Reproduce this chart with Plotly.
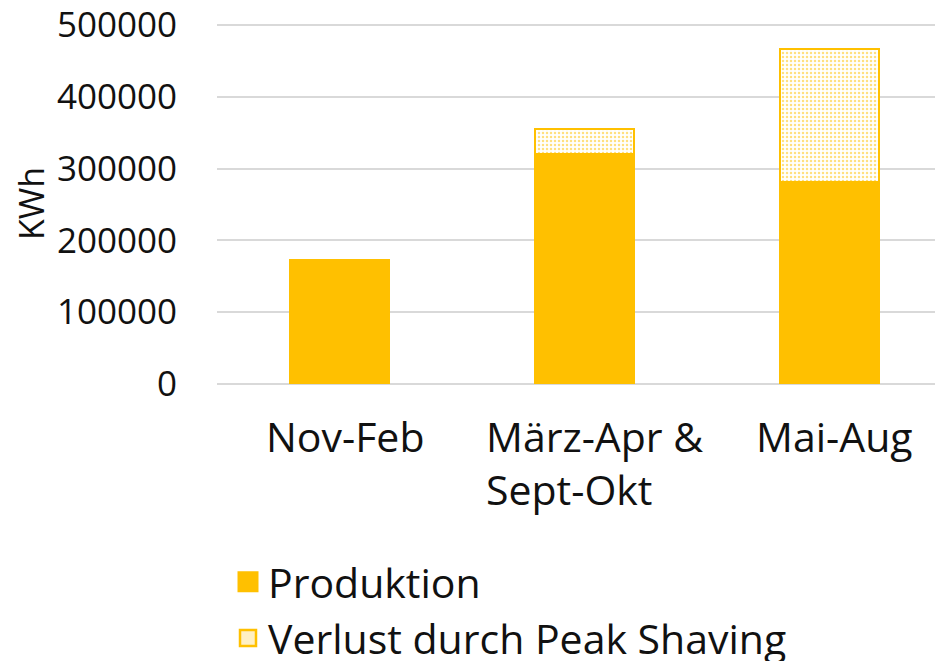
import plotly.graph_objects as go

categories = ["Nov-Feb", "März-Apr &<br>Sept-Okt", "Mai-Aug"]
produktion = [173000, 321000, 282000]
verlust = [None, 34000, 185000]
y_ticks = [0, 100000, 200000, 300000, 400000, 500000]
series_names = ["Produktion", "Verlust durch Peak Shaving"]

FONT = "Open Sans"
GOLD = "#FFC000"
TXT = "#111111"
OFF = 8  # default page body margin
W, H = 943 - OFF, 661 - OFF
Y_MAX = 500000
PX_PER_UNIT = (384 - 25) / Y_MAX
EXTRA_PX = 2  # keep top gridline off the very edge of the plot area
Y_RANGE_MAX = Y_MAX + EXTRA_PX / PX_PER_UNIT
L, R, T = 217 - OFF, 0, 25 - OFF - EXTRA_PX
BOTTOM = 384 - OFF
B = H - BOTTOM
plot_h = BOTTOM - T
plot_w = W - L - R

xs = list(range(len(categories)))
fig = go.Figure()
fig.add_trace(go.Bar(
    x=xs, y=produktion, name=series_names[0], showlegend=False,
    marker=dict(color=GOLD, line=dict(color=GOLD, width=1.5)),
))
fig.add_trace(go.Bar(
    x=xs, y=verlust, name=series_names[1], showlegend=False,
    marker=dict(color="white", line=dict(color=GOLD, width=2),
                pattern=dict(shape=".", fgcolor=GOLD, bgcolor="white",
                             size=4, solidity=0.3)),
))
# legend entries with larger square symbols
fig.add_trace(go.Scatter(
    x=[None], y=[None], mode="markers", name=series_names[0], legendgroup="a",
    marker=dict(symbol="square", size=22, color=GOLD,
                line=dict(color=GOLD, width=5)),
))
fig.add_trace(go.Scatter(
    x=[None], y=[None], mode="markers", name=series_names[1], legendgroup="b",
    marker=dict(symbol="square", size=22, color="#FFF0C4",
                line=dict(color=GOLD, width=2.5)),
))

for i, c in enumerate(categories):
    fig.add_annotation(
        x=i, xref="x", y=-22 / plot_h, yref="paper",
        text=c, showarrow=False, xanchor="center", yanchor="top",
        align="left", font=dict(family=FONT, size=41, color=TXT),
        xshift=10 if "<br>" in c else 5,
    )

fig.update_layout(
    width=W, height=H,
    margin=dict(l=L, r=R, t=T, b=B, pad=0, autoexpand=False),
    barmode="stack", bargap=0.595,
    plot_bgcolor="white", paper_bgcolor="white",
    font=dict(family=FONT, color=TXT),
    legend=dict(
        orientation="v", x=(270 - OFF - 42 - L) / plot_w, xanchor="left",
        y=-(548.5 - 384) / plot_h, yanchor="top",
        font=dict(family=FONT, size=41, color=TXT),
        traceorder="normal", bgcolor="rgba(0,0,0,0)",
        itemwidth=30, tracegroupgap=4,
    ),
    showlegend=True,
)
fig.update_xaxes(
    range=[-0.5, 2.5 - 9 / 245], showticklabels=False, showgrid=False,
    zeroline=False, showline=False, ticks="",
)
fig.update_yaxes(
    range=[0, Y_RANGE_MAX], tickvals=y_ticks, ticktext=[str(v) for v in y_ticks],
    showgrid=True, gridcolor="#D9D9D9", gridwidth=1.5,
    zeroline=True, zerolinecolor="#D9D9D9", zerolinewidth=1.5,
    showline=False, ticks="", ticklabelstandoff=39,
    ticklabeloverflow="allow",
    tickfont=dict(family=FONT, size=35, color=TXT),
    title=dict(text="KWh", font=dict(family=FONT, size=34, color=TXT),
               standoff=15),
)

fig.write_html("out.html")
